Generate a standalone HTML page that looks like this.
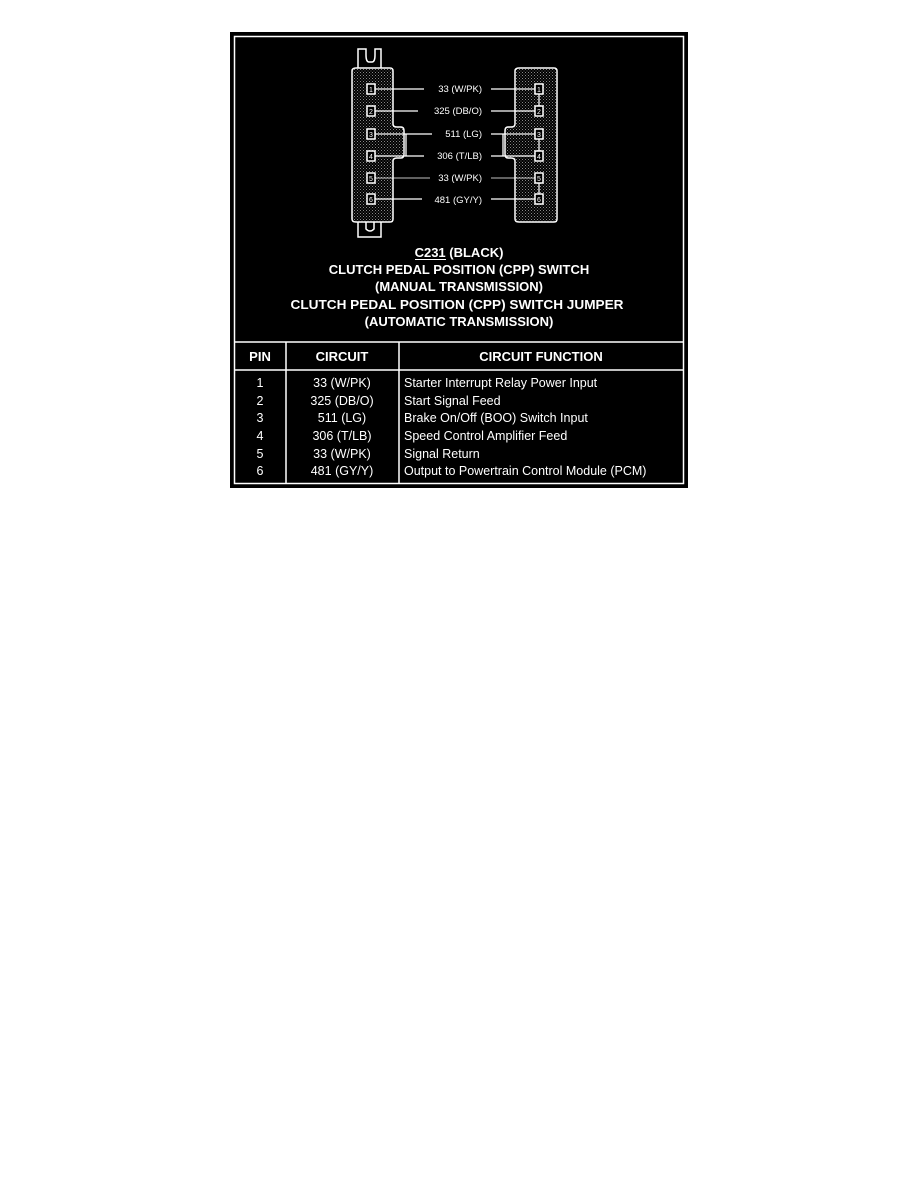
<!DOCTYPE html>
<html><head><style>
html,body{margin:0;padding:0;background:#fff;}
svg{display:block;}
text{font-family:"Liberation Sans",Arial,sans-serif;fill:#fff;}
</style></head><body>
<svg width="918" height="1188" viewBox="0 0 918 1188" xmlns="http://www.w3.org/2000/svg">
<defs>
<pattern id="dots" width="3" height="3" patternUnits="userSpaceOnUse">
<rect width="3" height="3" fill="#000"/><rect x="0" y="0" width="1" height="1" fill="#888"/><rect x="1.5" y="1.5" width="1" height="1" fill="#666"/>
</pattern>
</defs>
<rect x="230" y="32" width="458" height="456" fill="#000"/>
<rect x="234.5" y="36.5" width="449" height="447" fill="none" stroke="#fff" stroke-width="1.5"/>
<!-- left connector tabs -->
<path d="M358 68 V49 H366 V55 Q366 62 369 62 H372 Q375 62 375 55 V49 H381 V68" fill="none" stroke="#fff" stroke-width="1.5"/>
<path d="M358 222 V237 H381 V222 M366 222 V229 Q370 233 374 229 V222" fill="none" stroke="#fff" stroke-width="1.5"/>
<path d="M356 68 H390 Q393 68 393 71 V124 Q393 127 397 127 H401 Q404 127 404 131 V154 Q404 158 401 158 H397 Q393 158 393 161 V219 Q393 222 390 222 H356 Q352 222 352 219 V71 Q352 68 356 68 Z" fill="url(#dots)" stroke="#fff" stroke-width="1.5"/>
<!-- right connector -->
<path d="M519 68 H554 Q557 68 557 71 V219 Q557 222 554 222 H519 Q515 222 515 219 V161 Q515 158 511 158 H508 Q505 158 505 154 V131 Q505 127 508 127 H511 Q515 127 515 124 V71 Q515 68 519 68 Z" fill="url(#dots)" stroke="#fff" stroke-width="1.5"/>
<g stroke="#fff" stroke-width="1.5" fill="#000">
<rect x="367" y="84" width="8" height="10"/><rect x="367" y="106" width="8" height="10"/><rect x="367" y="129" width="8" height="10"/><rect x="367" y="151" width="8" height="10"/><rect x="367" y="173" width="8" height="10"/><rect x="367" y="194" width="8" height="10"/>
<rect x="535" y="84" width="8" height="10"/><rect x="535" y="106" width="8" height="10"/><rect x="535" y="129" width="8" height="10"/><rect x="535" y="151" width="8" height="10"/><rect x="535" y="173" width="8" height="10"/><rect x="535" y="194" width="8" height="10"/>
</g>
<g font-size="7" text-anchor="middle">
<text x="371" y="92">1</text><text x="371" y="114">2</text><text x="371" y="137">3</text><text x="371" y="159">4</text><text x="371" y="181">5</text><text x="371" y="202">6</text>
<text x="539" y="92">1</text><text x="539" y="114">2</text><text x="539" y="137">3</text><text x="539" y="159">4</text><text x="539" y="181">5</text><text x="539" y="202">6</text>
</g>
<g stroke="#fff" stroke-width="1.3">
<line x1="375" y1="89" x2="424" y2="89"/><line x1="491" y1="89" x2="535" y2="89"/>
<line x1="375" y1="111" x2="418" y2="111"/><line x1="491" y1="111" x2="535" y2="111"/>
<line x1="375" y1="134" x2="432" y2="134"/><line x1="491" y1="134" x2="535" y2="134"/>
<line x1="375" y1="156" x2="424" y2="156"/><line x1="491" y1="156" x2="535" y2="156"/>
<line x1="375" y1="178" x2="430" y2="178" stroke-width="0.8"/><line x1="491" y1="178" x2="535" y2="178" stroke-width="0.8"/>
<line x1="375" y1="199" x2="422" y2="199"/><line x1="491" y1="199" x2="535" y2="199"/>
<line x1="539" y1="94" x2="539" y2="106"/><line x1="539" y1="139" x2="539" y2="151"/><line x1="539" y1="183" x2="539" y2="194"/>
<line x1="406" y1="134" x2="406" y2="156"/><line x1="503" y1="134" x2="503" y2="156"/>
</g>
<g font-size="9.5" text-anchor="end">
<text x="482" y="92">33 (W/PK)</text>
<text x="482" y="114">325 (DB/O)</text>
<text x="482" y="137">511 (LG)</text>
<text x="482" y="159">306 (T/LB)</text>
<text x="482" y="181">33 (W/PK)</text>
<text x="482" y="203">481 (GY/Y)</text>
</g>
<g font-size="13" font-weight="bold" text-anchor="middle">
<text x="459" y="257">C231 (BLACK)</text>
<text x="459" y="274">CLUTCH PEDAL POSITION (CPP) SWITCH</text>
<text x="459" y="291">(MANUAL TRANSMISSION)</text>
<text x="457" y="309" textLength="333" lengthAdjust="spacingAndGlyphs">CLUTCH PEDAL POSITION (CPP) SWITCH JUMPER</text>
<text x="459" y="326">(AUTOMATIC TRANSMISSION)</text>
</g>
<line x1="415" y1="259.5" x2="446" y2="259.5" stroke="#fff" stroke-width="1"/>
<g stroke="#fff" stroke-width="1.5">
<line x1="234" y1="342" x2="684" y2="342"/>
<line x1="234" y1="370" x2="684" y2="370"/>
<line x1="286" y1="342" x2="286" y2="484"/>
<line x1="399" y1="342" x2="399" y2="484"/>
</g>
<g font-size="13" font-weight="bold" text-anchor="middle">
<text x="260" y="361">PIN</text>
<text x="342" y="361">CIRCUIT</text>
<text x="541" y="361">CIRCUIT FUNCTION</text>
</g>
<g font-size="12.5" text-anchor="middle">
<text x="260" y="387">1</text><text x="260" y="405">2</text><text x="260" y="422">3</text><text x="260" y="440">4</text><text x="260" y="458">5</text><text x="260" y="475">6</text>
<text x="342" y="387">33 (W/PK)</text><text x="342" y="405">325 (DB/O)</text><text x="342" y="422">511 (LG)</text><text x="342" y="440">306 (T/LB)</text><text x="342" y="458">33 (W/PK)</text><text x="342" y="475">481 (GY/Y)</text>
</g>
<g font-size="12.5">
<text x="404" y="387">Starter Interrupt Relay Power Input</text>
<text x="404" y="405">Start Signal Feed</text>
<text x="404" y="422">Brake On/Off (BOO) Switch Input</text>
<text x="404" y="440">Speed Control Amplifier Feed</text>
<text x="404" y="458">Signal Return</text>
<text x="404" y="475">Output to Powertrain Control Module (PCM)</text>
</g>
</svg>
</body></html>
